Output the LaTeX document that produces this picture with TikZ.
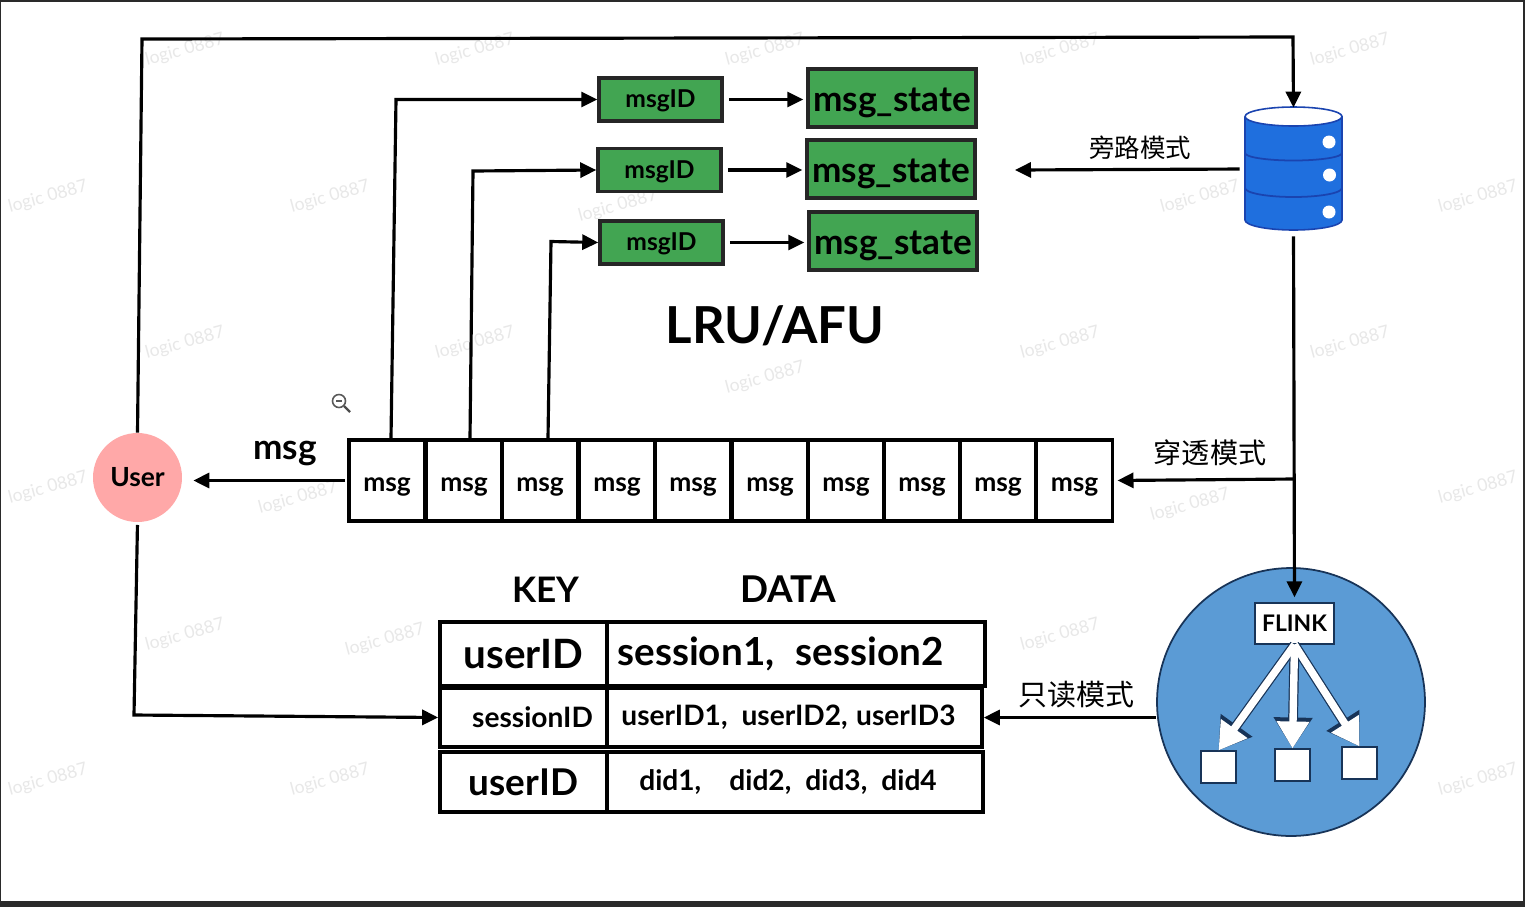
\documentclass[tikz,border=0pt]{standalone}
\usepackage{fontspec}
\usepackage{tikz}
\usetikzlibrary{arrows.meta}
\setmainfont{Lato}
\newfontfamily\cjk{Noto Sans CJK SC}
\newcommand{\fsz}[1]{\fontsize{#1}{#1}\selectfont}
\newcommand{\msgdn}{\raisebox{-0.12cm}[0.3cm][0.1cm]{msg}}
\newcommand{\iddn}{\raisebox{0pt}[0.43cm][0.1cm]{msgID}}
\newcommand{\statedn}{\raisebox{0pt}[0.6cm][0.08cm]{msg\_state}}
\definecolor{okgreen}{RGB}{66,165,82}
\definecolor{dbblue}{RGB}{31,111,222}
\definecolor{dbedge}{RGB}{26,68,176}
\definecolor{poolblue}{RGB}{91,155,213}
\definecolor{pooledge}{RGB}{24,52,88}
\definecolor{userpink}{RGB}{255,168,168}
\definecolor{edgedark}{RGB}{42,42,42}

\begin{document}
\begin{tikzpicture}[x=0.02cm,y=0.02cm]
\tikzstyle{every node}+=[inner sep=0pt]
\tikzstyle{mark0887}=[text=black!9,rotate=15,font=\fsz{10}]
\tikzstyle{conn}=[black,line width=1.8pt,-{Triangle[length=0.32cm,width=0.3cm]}]
\tikzstyle{cell}=[draw=black,line width=2.1pt,fill=white,minimum width=1.526cm,minimum height=1.62cm,font=\fsz{15}\bfseries]
\tikzstyle{idbox}=[draw=black!85,line width=2pt,fill=okgreen,minimum width=2.46cm,minimum height=0.86cm,font=\fsz{14}\bfseries]
\tikzstyle{statebox}=[draw=black!85,line width=2pt,fill=okgreen,minimum width=3.36cm,minimum height=1.16cm,font=\fsz{20}\bfseries]
\tikzstyle{keycell}=[draw=black,line width=2.1pt,fill=white,minimum width=3.34cm]
\tikzstyle{datacell}=[draw=black,line width=2.1pt,fill=white]
\tikzstyle{sink}=[draw=pooledge,line width=0.6pt,fill=white,minimum width=0.7cm,minimum height=0.64cm]
\tikzstyle{flowdark}=[pooledge,line width=5.6pt,-{Triangle[length=0.62cm,width=0.74cm]}]
\tikzstyle{flowlite}=[white,line width=4.2pt,-{Triangle[length=0.54cm,width=0.62cm]}]

% page and its dark edge
\path [use as bounding box,clip] (0,0) rectangle (1525,-907);
\fill [edgedark] (0,0) rectangle (1525,-907);
\fill [white] (1.5,-1.5) rectangle (1523,-901);

% watermark
\node [mark0887] (w01) at (185,-50) {logic 0887};
\node [mark0887] (w02) at (475,-50) {logic 0887};
\node [mark0887] (w03) at (765,-50) {logic 0887};
\node [mark0887] (w04) at (1060,-50) {logic 0887};
\node [mark0887] (w05) at (1350,-50) {logic 0887};
\node [mark0887] (w06) at (48,-197) {logic 0887};
\node [mark0887] (w07) at (330,-197) {logic 0887};
\node [mark0887] (w08) at (618,-206) {logic 0887};
\node [mark0887] (w09) at (1200,-197) {logic 0887};
\node [mark0887] (w10) at (1478,-197) {logic 0887};
\node [mark0887] (w11) at (185,-343) {logic 0887};
\node [mark0887] (w12) at (475,-343) {logic 0887};
\node [mark0887] (w13) at (765,-378) {logic 0887};
\node [mark0887] (w14) at (1060,-343) {logic 0887};
\node [mark0887] (w15) at (1350,-343) {logic 0887};
\node [mark0887] (w16) at (48,-488) {logic 0887};
\node [mark0887] (w17) at (298,-498) {logic 0887};
\node [mark0887] (w18) at (1190,-505) {logic 0887};
\node [mark0887] (w19) at (1478,-488) {logic 0887};
\node [mark0887] (w20) at (185,-635) {logic 0887};
\node [mark0887] (w21) at (385,-640) {logic 0887};
\node [mark0887] (w22) at (1060,-635) {logic 0887};
\node [mark0887] (w23) at (48,-780) {logic 0887};
\node [mark0887] (w24) at (330,-780) {logic 0887};
\node [mark0887] (w25) at (1478,-780) {logic 0887};

% zoom cursor
\draw [black!65,line width=0.9pt,fill=white] (339,-401) circle (6.5);
\draw [black!65,line width=0.9pt] (336,-401) -- (342,-401);
\draw [black!70,line width=1.3pt] (344,-406) -- (350,-412);

% msg queue
\node [cell] (m1) at (387,-480.5) {\msgdn};
\node [cell] (m2) at (464,-480.5) {\msgdn};
\node [cell] (m3) at (540,-480.5) {\msgdn};
\node [cell] (m4) at (617,-480.5) {\msgdn};
\node [cell] (m5) at (693,-480.5) {\msgdn};
\node [cell] (m6) at (770,-480.5) {\msgdn};
\node [cell] (m7) at (846,-480.5) {\msgdn};
\node [cell] (m8) at (922,-480.5) {\msgdn};
\node [cell] (m9) at (998,-480.5) {\msgdn};
\node [cell] (m10) at (1074.5,-480.5) {\msgdn};

% id and state boxes
\node [idbox] (id1) at (660.5,-99.5) {\iddn};
\node [idbox] (id2) at (659.5,-170) {\iddn};
\node [idbox] (id3) at (661.5,-242.5) {\iddn};
\node [statebox] (st1) at (892,-98) {\statedn};
\node [statebox] (st2) at (891,-169) {\statedn};
\node [statebox] (st3) at (893,-241) {\statedn};

% user, store
\node [circle,fill=userpink,minimum size=1.78cm,font=\fsz{15}\bfseries] (user) at (137.5,-477.5) {User};
\node [minimum width=1.94cm,minimum height=2.44cm] (db) at (1293.5,-169) {};
\fill [dbblue] (1245,-116.5) -- (1245,-220) arc (180:360:48.5 and 10) -- (1342,-116.5) -- cycle;
\draw [dbedge,line width=0.9pt] (1245,-116.5) -- (1245,-220) arc (180:360:48.5 and 10) -- (1342,-116.5);
\draw [dbedge,line width=0.9pt,fill=white] (1293.5,-116.5) ellipse (48.5 and 9.5);
\draw [dbedge,line width=1pt] (1245,-153) arc (180:360:48.5 and 7.5);
\draw [dbedge,line width=1pt] (1245,-188) arc (180:360:48.5 and 9);
\fill [white] (1329,-142) circle (6.5);
\fill [white] (1329.5,-175) circle (6.5);
\fill [white] (1329,-212) circle (6.5);

% flink pool
\node [circle,draw=pooledge,line width=1pt,fill=poolblue,minimum size=5.36cm] (pool) at (1291,-702) {};
\node [draw=pooledge,line width=0.8pt,fill=white,minimum width=1.58cm,minimum height=0.82cm,font=\fsz{13}\bfseries] (flink) at (1294.5,-623.5) {FLINK};
\node [sink] (b1) at (1218.5,-767) {};
\node [sink] (b2) at (1292.5,-765) {};
\node [sink] (b3) at (1359.5,-763) {};
\draw [flowdark] (flink.south) -- (b1.north);
\draw [flowdark] (flink.south) -- (b2.north);
\draw [flowdark] (flink.south) -- (b3.north);
\draw [flowlite] (flink.south) -- (b1.north);
\draw [flowlite] (flink.south) -- (b2.north);
\draw [flowlite] (flink.south) -- (b3.north);

% key data table
\node [font=\fsz{20}\bfseries] (keyhead) at (546,-590) {KEY};
\node [font=\fsz{21}\bfseries] (datahead) at (788,-589) {DATA};
\node [keycell,minimum height=1.28cm,font=\fsz{23}\bfseries] (k1) at (523.5,-654) {userID};
\node [datacell,minimum width=7.56cm,minimum height=1.28cm,font=\fsz{22}\bfseries] (d1) at (796,-654) {session1,\hspace{0.55em}session2\hspace*{0.62cm}};
\node [keycell,minimum height=1.18cm,font=\fsz{16}\bfseries] (k2) at (523.5,-717.5) {\hspace*{0.36cm}sessionID};
\node [datacell,minimum width=7.5cm,minimum height=1.18cm,font=\fsz{16}\bfseries] (d2) at (794.5,-717.5) {userID1,\hspace{0.5em}userID2,\hspace{0.3em}userID3\hspace*{0.24cm}};
\node [keycell,minimum height=1.2cm,font=\fsz{21}\bfseries] (k3) at (523.5,-782) {userID};
\node [datacell,minimum width=7.52cm,minimum height=1.2cm,font=\fsz{16}\bfseries] (d3) at (795,-782) {did1,\hspace{1em}did2,\hspace{0.5em}did3,\hspace{0.5em}did4\hspace*{0.28cm}};

% labels
\node [font=\fsz{29}\bfseries] (lru) at (775,-326) {LRU/AFU};
\node [font=\fsz{20}\bfseries] (msglab) at (285,-453) {msg};
\node [font={\cjk\fsz{14.5}}] (bypasslab) at (1140,-148) {旁路模式};
\node [font={\cjk\fsz{16}}] (throughlab) at (1210,-453) {穿透模式};
\node [font={\cjk\fsz{16.5}}] (readlab) at (1076,-695) {只读模式};

% elbows
\coordinate (a1) at (142,-39);
\coordinate (a2) at (1293,-37);
\coordinate (a3) at (134,-715);
\coordinate (e1) at (396,-99.5);
\coordinate (e2) at (473,-171);
\coordinate (e3) at (551,-241.5);
\coordinate (jn) at (1294,-479);
\coordinate (bp) at (1015,-170);

% connectors
\draw [conn] (user.north) -- (a1) -- (a2) -- (db.north);
\draw [conn,shorten <=1.5pt] (user.south) -- (a3) -- (k2.west);
\draw [conn,shorten >=0.22cm,shorten <=0.04cm] (m1.west) -- (user.east |- m1.west);
\draw [conn] ([xshift=0.08cm]m1.north) -- (e1) -- (id1.west);
\draw [conn] ([xshift=0.12cm]m2.north) -- (e2) -- (id2.west);
\draw [conn] ([xshift=0.16cm]m3.north) -- (e3) -- (id3.west);
\draw [conn,shorten <=0.1cm,shorten >=0.06cm] (id1.east) -- (st1.west |- id1.east);
\draw [conn,shorten <=0.1cm,shorten >=0.06cm] (id2.east) -- (st2.west |- id2.east);
\draw [conn,shorten <=0.1cm,shorten >=0.06cm] (id3.east) -- (st3.west |- id3.east);
\draw [conn,shorten <=0.1cm] (db.west) -- (bp);
\draw [conn,shorten <=0.12cm,shorten >=0.1cm] (db.south) -- (flink.north);
\draw [conn,shorten >=0.06cm] (jn) -- (m10.east);
\draw [conn] (pool.west |- d2.east) -- (d2.east);
\end{tikzpicture}
\end{document}
